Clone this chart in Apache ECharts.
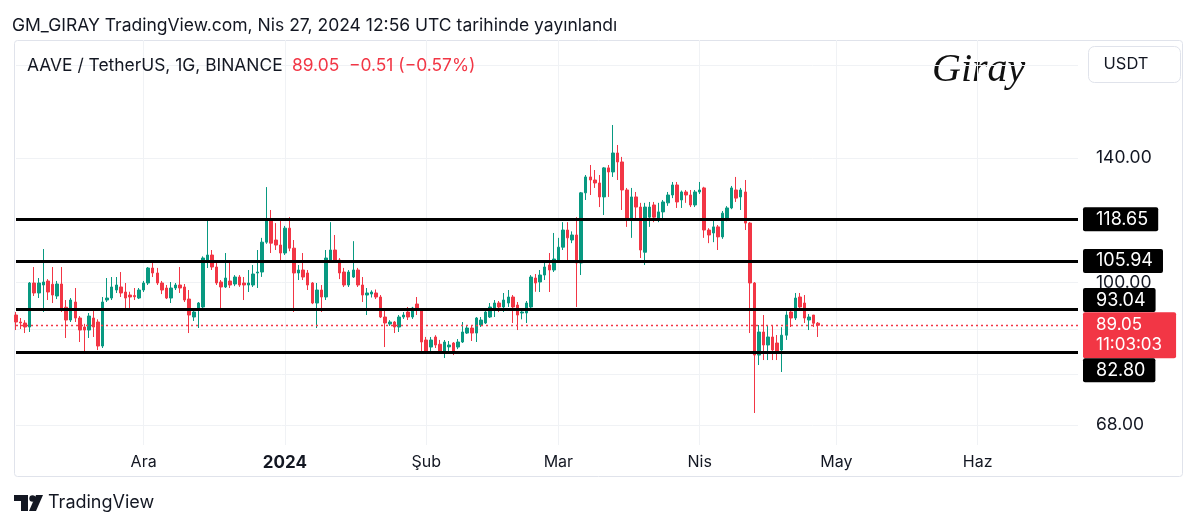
<!DOCTYPE html>
<html><head><meta charset="utf-8">
<script src="https://cdn.jsdelivr.net/npm/echarts@6/dist/echarts.min.js"></script>
<style>html,body{margin:0;padding:0;background:#fff}#c{width:1200px;height:530px}</style>
</head><body><div id="c"></div>
<script>
// ---- data ----
const startDate = [2023, 10, 3];   // 3 Nov 2023 (UTC, month 0-based)
const totalDays = 234;              // axis runs to 23 Jun 2024
const monthNames = ['Oca','Şub','Mar','Nis','May','Haz','Tem','Ağu','Eyl','Eki','Kas','Ara'];

const opens = [91.56,89.85,89.6,88.64,99.84,97.18,99.3,100.38,99.5,96.39,99.57,93.5,90.33,94.84,90.82,88.64,87.92,90.82,89.85,84.2,
95.35,95.87,97.97,98.77,97.44,96.65,96.5,95.87,97.97,99.84,103.97,102.58,99.84,98.5,95.87,98.5,99.3,98.77,95.6,91.07,
92.81,93.57,106.25,107.69,104.25,100.11,98.77,100.38,99.57,101.47,99.84,99.3,99.3,102.58,102.85,111.5,118.38,112.15,110.64,108.27,
115.8,109.7,102.58,103.41,102.58,99.84,94.58,97.97,96.13,106.25,109.16,106.25,102.85,99.3,101.47,103.41,99.3,96.65,96.91,97.18,
96.13,91.07,89.36,89.85,88.64,91.07,92.31,91.07,94.33,92.81,85.58,83.97,86.28,84.6,82.62,84.0,84.89,83.97,85.12,87.21,
88.4,87.21,89.12,89.61,91.07,93.32,94.58,93.57,94.58,96.13,94.07,92.06,92.06,93.57,101.2,100.11,102.02,104.82,103.41,106.25,
110.0,115.22,112.15,113.68,105.39,127.4,133.0,131.91,130.85,126.0,136.3,134.8,141.9,138.5,128.39,118.38,126.0,122.6,108.5,119.3,
123.29,118.38,121.0,124.0,126.66,130.14,124.97,127.7,126.66,123.29,127.7,129.1,115.22,114.3,116.2,113.1,118.38,122.3,128.39,126.0,
127.7,117.4,99.84,82.17,87.45,84.43,86.28,84.89,83.3,86.7,92.31,90.82,96.13,94.58,90.33,91.56,89.56];
const highs = [92.31,90.82,90.3,100.11,104.25,101.2,109.45,100.9,104.25,100.4,104.25,95.35,95.87,98.5,91.3,89.4,92.06,92.81,90.5,96.13,
101.2,101.47,101.47,102.85,99.84,97.5,98.5,98.5,100.4,104.25,105.68,104.0,100.4,99.3,100.11,99.84,104.25,99.57,97.97,92.8,
94.84,107.3,118.6,109.16,105.39,100.65,108.27,105.39,102.0,102.0,101.47,103.41,104.82,109.16,112.8,129.4,121.63,117.4,118.38,116.5,
119.3,112.15,104.82,108.27,103.41,100.11,99.84,99.3,109.16,117.7,113.68,106.8,104.0,103.4,111.8,104.0,101.47,98.5,97.9,98.1,
96.65,92.81,90.3,90.1,91.56,92.3,93.57,93.6,96.13,93.3,86.3,86.28,86.7,85.6,85.58,85.35,85.12,85.8,89.85,89.1,
88.9,91.07,91.07,92.56,94.58,95.35,95.1,97.18,97.97,96.65,94.84,93.3,95.1,102.0,102.3,103.41,105.39,108.27,114.3,112.8,
117.7,117.7,114.8,119.3,127.7,133.7,137.37,135.52,133.7,136.6,137.37,153.06,145.0,140.4,129.1,129.1,127.7,124.0,124.0,124.3,
124.3,124.0,124.97,127.7,131.2,131.2,128.2,128.39,128.39,128.39,131.2,129.5,115.8,119.0,116.79,121.3,122.9,129.8,133.0,129.1,
131.91,117.7,100.11,89.12,91.56,89.12,89.12,86.74,88.6,92.5,92.81,97.18,97.18,96.65,91.8,91.56,89.85];
const lows = [87.92,88.16,87.21,87.45,96.39,95.87,92.31,95.35,94.58,95.6,92.31,86.05,89.85,89.85,85.12,82.84,86.05,86.28,83.29,83.75,
94.84,95.35,97.18,96.13,93.32,92.81,95.35,95.6,97.44,99.3,101.47,99.3,96.9,95.6,94.58,97.97,97.18,94.84,87.21,90.1,
88.4,93.3,103.97,103.41,99.3,93.06,98.5,98.5,99.0,98.8,95.35,97.44,98.77,98.5,101.5,111.0,108.27,109.16,105.68,107.7,
108.8,92.31,100.65,100.65,97.97,94.3,88.4,92.31,95.35,105.39,105.4,100.9,98.77,98.77,101.2,98.77,94.84,91.56,96.0,95.6,
90.82,83.97,88.9,87.21,87.45,90.6,90.33,90.6,91.56,82.84,82.4,82.62,83.75,82.6,81.51,82.6,82.17,83.5,84.89,86.98,
85.35,85.12,88.64,89.36,90.82,91.07,92.3,92.31,93.57,89.61,87.92,90.5,89.61,93.32,97.5,97.44,100.65,97.44,102.85,105.39,
109.16,105.39,111.2,93.57,102.02,124.97,126.66,129.1,122.6,119.99,126.0,133.0,131.91,121.63,116.2,112.8,118.38,106.82,104.82,116.2,
117.7,117.7,119.0,123.0,125.6,122.3,122.3,124.0,122.6,122.6,127.0,112.8,111.2,111.5,109.16,112.5,118.0,121.9,124.3,121.63,
115.22,87.21,70.25,79.98,81.07,81.07,81.07,81.07,78.49,85.6,88.64,90.33,93.32,89.61,87.92,88.64,86.28];
const closes = [89.85,89.61,88.64,99.84,97.18,99.84,100.11,97.44,96.65,99.57,92.81,90.33,95.35,90.82,87.92,87.92,91.31,88.64,84.2,94.84,
95.87,98.77,99.3,97.18,95.87,96.13,96.2,97.97,99.84,103.97,102.58,99.84,97.97,95.87,98.5,99.3,98.5,95.35,91.56,92.31,
94.58,106.82,107.69,104.25,99.84,98.77,101.2,99.3,101.47,99.3,99.3,99.84,102.3,102.85,111.5,118.38,111.2,110.64,108.27,115.8,
109.7,102.58,103.41,101.47,99.3,94.58,97.97,96.13,106.82,109.16,106.25,102.58,99.3,102.85,103.41,99.3,96.65,97.18,97.44,96.13,
91.07,89.61,89.85,88.64,91.07,91.56,91.07,93.32,92.81,85.12,82.84,85.58,84.43,82.84,85.12,84.43,82.62,85.12,87.45,88.4,
87.21,90.82,90.33,92.31,93.57,94.58,93.57,95.35,96.13,93.57,91.56,92.31,94.58,101.47,99.84,102.02,104.25,103.41,106.53,110.0,
115.22,112.8,113.68,105.39,127.4,133.0,131.91,130.85,126.0,136.3,134.8,141.9,138.5,128.39,118.38,126.0,122.6,109.16,122.6,122.6,
119.3,121.0,124.3,126.66,130.14,124.3,127.7,126.66,123.29,127.7,128.39,115.22,113.68,116.2,113.1,120.6,122.3,129.1,125.6,128.39,
117.4,99.84,82.17,87.45,84.43,86.28,83.29,82.62,86.7,91.56,90.82,95.87,93.57,90.82,91.07,89.56,89.05];

const levelLines = [118.65, 105.94, 93.04, 82.80];
const lastPrice = 89.05;
const lastCountdown = '11:03:03';
const gridValues = [180, 140, 100, 88, 78, 68];
const priceTicks = [140, 100, 68];

// ---- build ----
const cats = [];
{
  const d0 = Date.UTC(startDate[0], startDate[1], startDate[2]);
  for (let k = 0; k < totalDays; k++) {
    cats.push(new Date(d0 + k * 86400000).toISOString().slice(0, 10));
  }
}
const candleData = opens.map((o, i) => [o, closes[i], lows[i], highs[i]]);
const isMonthStart = (i, v) => (v || cats[i]).slice(8) === '01';
// label nudges that keep the price-axis tags from overlapping (as on the original)
const levelLabelOffsets = {'93.04': [0, -9], '82.80': [0, 18]};

const FONT = 'Inter, Roboto, "Liberation Sans", sans-serif';
const UP = '#089981', DOWN = '#f23645', GRIDC = '#f0f2f5', TXT = '#131722';

const chart = echarts.init(document.getElementById('c'), null, {renderer: 'canvas'});
chart.setOption({
  animation: false,
  backgroundColor: '#ffffff',
  textStyle: {fontFamily: FONT},
  grid: {left: 16, right: 122, top: 40, bottom: 85, containLabel: false},
  xAxis: {
    type: 'category', data: cats, boundaryGap: false,
    axisLine: {show: false}, axisTick: {show: false},
    axisLabel: {
      interval: isMonthStart, margin: 9, fontSize: 16, color: TXT, fontFamily: FONT,
      formatter: v => {
        const m = +v.slice(5, 7);
        return m === 1 ? '{y|' + v.slice(0, 4) + '}' : monthNames[m - 1];
      },
      rich: {y: {fontWeight: 'bold', fontSize: 17, color: TXT, fontFamily: FONT}}
    },
    splitLine: {show: true, interval: isMonthStart, lineStyle: {color: GRIDC, width: 1}}
  },
  yAxis: {
    type: 'log', logBase: 10, min: 64.43, max: 192.6,
    axisLine: {show: false}, axisTick: {show: false},
    axisLabel: {show: false}, splitLine: {show: false}
  },
  series: [
    {
      name: 'grid', type: 'line', data: [], z: 1, silent: true,
      markLine: {
        silent: true, symbol: ['none', 'none'], animation: false, z: 1,
        lineStyle: {color: GRIDC, width: 1, type: 'solid'},
        label: {position: 'end', distance: 18, color: TXT, fontSize: 17.5, fontFamily: FONT},
        data: gridValues.map(v => ({
          yAxis: v,
          label: {show: priceTicks.includes(v), formatter: v.toFixed(2)}
        }))
      }
    },
    {
      name: 'AAVE', type: 'candlestick', data: candleData, z: 3, barWidth: 3,
      itemStyle: {color: UP, color0: DOWN, borderColor: UP, borderColor0: DOWN, borderWidth: 1}
    },
    {
      name: 'last', type: 'line', data: [], z: 4, silent: true,
      markLine: {
        silent: true, symbol: ['none', 'none'], animation: false, z: 4,
        lineStyle: {color: DOWN, width: 1.3, type: [2, 3], opacity: 1},
        label: {
          position: 'end', distance: 5, color: '#ffffff', fontSize: 17, fontFamily: FONT,
          backgroundColor: DOWN, padding: [3, 14, 3, 13], borderRadius: 2, lineHeight: 20,
          offset: [0, 10],
          formatter: p => Number(p.value).toFixed(2) + '\n' + lastCountdown
        },
        data: [{yAxis: lastPrice, lineStyle: {color: DOWN}}]
      }
    },
    {
      name: 'levels', type: 'line', data: [], z: 5, silent: true,
      markLine: {
        silent: true, symbol: ['none', 'none'], animation: false, z: 5,
        lineStyle: {color: '#000000', width: 3, type: 'solid'},
        label: {
          position: 'end', distance: 5, color: '#ffffff', fontSize: 18, fontFamily: FONT,
          backgroundColor: '#000000', padding: [3, 10, 3, 13], borderRadius: 2,
          formatter: p => Number(p.value).toFixed(2)
        },
        data: levelLines.map(v => {
          const off = levelLabelOffsets[v.toFixed(2)];
          return off ? {yAxis: v, label: {offset: off}} : {yAxis: v};
        })
      }
    }
  ],
  graphic: [
    {type: 'rect', z: 0, silent: true, shape: {x: 14.5, y: 40.5, width: 1168, height: 436, r: 3},
     style: {fill: 'none', stroke: '#e0e3eb', lineWidth: 1}},
    {type: 'text', x: 12, y: 26, silent: true,
     style: {text: 'GM_GIRAY TradingView.com, Nis 27, 2024 12:56 UTC tarihinde yayınlandı',
             font: '17.5px ' + FONT, fill: TXT, verticalAlign: 'middle', textVerticalAlign: 'middle'}},
    {type: 'text', x: 27, y: 66, silent: true, z: 20,
     style: {text: 'AAVE / TetherUS, 1G, BINANCE', font: '17.4px ' + FONT, fill: TXT,
             verticalAlign: 'middle', textVerticalAlign: 'middle'}},
    {type: 'text', x: 292, y: 66, silent: true, z: 20,
     style: {text: '89.05  −0.51 (−0.57%)', font: '17.4px ' + FONT, fill: DOWN,
             verticalAlign: 'middle', textVerticalAlign: 'middle'}},
    {type: 'text', x: 932, y: 70, silent: true,
     style: {text: 'Giray', font: 'italic 40px "Liberation Serif", "DejaVu Serif", serif', fill: '#111111',
             verticalAlign: 'middle', textVerticalAlign: 'middle'}},
    {type: 'rect', silent: true, z: 10, shape: {x: 1088.5, y: 46.5, width: 92, height: 36, r: 6},
     style: {fill: '#ffffff', stroke: '#e0e3eb', lineWidth: 1}},
    {type: 'text', x: 1126, y: 64, silent: true, z: 11,
     style: {text: 'USDT', font: '16.5px ' + FONT, fill: TXT, align: 'center', textAlign: 'center',
             verticalAlign: 'middle', textVerticalAlign: 'middle'}},
    {type: 'polygon', silent: true, shape: {points: [[14, 495], [28, 495], [28, 511], [21, 511], [21, 501], [14, 501]]},
     style: {fill: '#131722'}},
    {type: 'circle', silent: true, shape: {cx: 32.5, cy: 498.5, r: 3.2}, style: {fill: '#131722'}},
    {type: 'polygon', silent: true, shape: {points: [[36, 495], [43, 495], [36, 511], [29, 511]]},
     style: {fill: '#131722'}},
    {type: 'text', x: 48, y: 503, silent: true,
     style: {text: 'TradingView', font: '18px ' + FONT, fill: TXT, verticalAlign: 'middle', textVerticalAlign: 'middle'}}
  ]
});
</script>
</body></html>
